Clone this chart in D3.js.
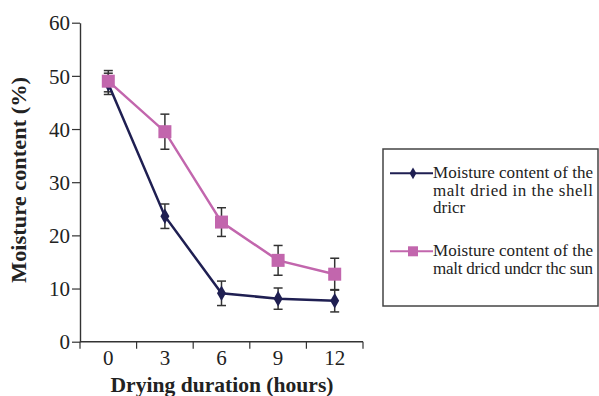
<!DOCTYPE html>
<html lang="en">
<head>
  <meta charset="UTF-8">
  <title>Moisture content</title>
  <script src="https://d3js.org/d3.v7.min.js"></script>
  <style>
    body { margin: 0; background: #fff; }
    text { font-family: "Liberation Serif", "Times New Roman", serif; fill: #222; }
  </style>
</head>
<body>
<svg id="canvas" width="599" height="396"></svg>
<script>
  // hours of drying
  const hours = ["0", "3", "6", "9", "12"];
  // shell dryer series and its error
  const shellVals = [48.5, 23.6, 9.1, 8.1, 7.7];
  const shellErr = [2.0, 2.3, 2.3, 2.0, 2.1];
  // sun dried series and its error
  const sunVals = [49.0, 39.5, 22.5, 15.3, 12.7];
  const sunErr = [2.0, 3.3, 2.7, 2.8, 3.0];
  const yTicks = [0, 10, 20, 30, 40, 50, 60];
  const legendShell = ["Moisture content of the", "malt dried in the shell", "dricr"];
  const legendSun = ["Moisture content of the", "malt dricd undcr thc sun"];

  const navy = "#1f1f52", pink = "#c266ad";
  const svg = d3.select("#canvas");

  const x = d3.scaleBand().domain(hours).range([80, 363]);
  const y = d3.scaleLinear().domain([0, 60]).range([341.7, 22.7]);

  // y axis
  const yAxis = svg.append("g").attr("transform", "translate(80,0)")
    .call(d3.axisLeft(y).tickValues(yTicks).tickSize(8).tickPadding(2).tickSizeOuter(0));
  yAxis.selectAll("text").style("font-size", "21px").attr("dy", "0.34em");
  yAxis.select(".domain").attr("stroke", "#333").attr("stroke-width", 1.4);
  yAxis.selectAll(".tick line").attr("stroke", "#333").attr("stroke-width", 1.2);

  // x axis: ticks on band edges, labels in band centres
  const xAxis = svg.append("g").attr("transform", "translate(0,341.7)");
  xAxis.append("line").attr("x1", 80).attr("x2", 363).attr("stroke", "#333").attr("stroke-width", 1.4);
  const edges = hours.map(h => x(h)).concat([x.range()[1]]);
  xAxis.selectAll("line.tk").data(edges).enter().append("line").attr("class", "tk")
    .attr("x1", d => d).attr("x2", d => d).attr("y1", 0).attr("y2", 7)
    .attr("stroke", "#333").attr("stroke-width", 1.2);
  xAxis.selectAll("text").data(hours).enter().append("text")
    .attr("x", d => x(d) + x.bandwidth() / 2).attr("y", 23)
    .attr("text-anchor", "middle").style("font-size", "21px").text(d => d);

  // axis titles
  svg.append("text").attr("x", 222).attr("y", 392).attr("text-anchor", "middle")
    .style("font-size", "21px").style("font-weight", "bold")
    .attr("textLength", 223).attr("lengthAdjust", "spacingAndGlyphs").text("Drying duration (hours)");
  svg.append("text").attr("transform", "translate(26,180) rotate(-90)").attr("text-anchor", "middle")
    .style("font-size", "21px").style("font-weight", "bold")
    .attr("textLength", 206).attr("lengthAdjust", "spacingAndGlyphs").text("Moisture content (%)");

  const cx = d => x(d) + x.bandwidth() / 2;
  const line = d3.line().x(d => cx(d.h)).y(d => y(d.v));
  const shell = hours.map((h, i) => ({h: h, v: shellVals[i], e: shellErr[i]}));
  const sun = hours.map((h, i) => ({h: h, v: sunVals[i], e: sunErr[i]}));

  function errorBars(data) {
    const g = svg.append("g").attr("stroke", "#333").attr("stroke-width", 1.5);
    data.forEach(d => {
      g.append("line").attr("x1", cx(d.h)).attr("x2", cx(d.h)).attr("y1", y(d.v - d.e)).attr("y2", y(d.v + d.e));
      [d.v - d.e, d.v + d.e].forEach(v => {
        g.append("line").attr("x1", cx(d.h) - 4.5).attr("x2", cx(d.h) + 4.5).attr("y1", y(v)).attr("y2", y(v));
      });
    });
  }
  errorBars(shell);
  errorBars(sun);

  svg.append("path").datum(shell).attr("d", line).attr("fill", "none").attr("stroke", navy).attr("stroke-width", 2.5);
  svg.append("path").datum(sun).attr("d", line).attr("fill", "none").attr("stroke", pink).attr("stroke-width", 2.5);

  const diamond = d3.symbol().type(d3.symbolDiamond).size(70);
  svg.selectAll("path.dia").data(shell).enter().append("path").attr("class", "dia")
    .attr("transform", d => `translate(${cx(d.h)},${y(d.v)})`).attr("d", diamond).attr("fill", navy);
  svg.selectAll("rect.sq").data(sun).enter().append("rect").attr("class", "sq")
    .attr("x", d => cx(d.h) - 6.5).attr("y", d => y(d.v) - 6.5).attr("width", 13).attr("height", 13).attr("fill", pink);

  // legend
  const lg = svg.append("g");
  lg.append("rect").attr("x", 383).attr("y", 149).attr("width", 215).attr("height", 157)
    .attr("fill", "#fff").attr("stroke", "#444").attr("stroke-width", 1.5);
  const entries = [
    {lines: legendShell, color: navy, y: 173.3, shape: "dia", widths: [160, 160, null]},
    {lines: legendSun, color: pink, y: 251.3, shape: "sq", widths: [160, 160]}
  ];
  entries.forEach(e => {
    lg.append("line").attr("x1", 390).attr("x2", 433).attr("y1", e.y).attr("y2", e.y)
      .attr("stroke", e.color).attr("stroke-width", 2);
    if (e.shape === "dia") {
      lg.append("path").attr("transform", `translate(413,${e.y})`)
        .attr("d", d3.symbol().type(d3.symbolDiamond).size(40)).attr("fill", e.color);
    } else {
      lg.append("rect").attr("x", 408).attr("y", e.y - 5).attr("width", 10).attr("height", 10).attr("fill", e.color);
    }
    e.lines.forEach((t, i) => {
      const tx = lg.append("text").attr("x", 433).attr("y", e.y + 5 + i * 17.5)
        .style("font-size", "17px").text(t);
      if (e.widths[i]) tx.attr("textLength", e.widths[i]).attr("lengthAdjust", "spacing");
    });
  });
</script>
</body>
</html>
